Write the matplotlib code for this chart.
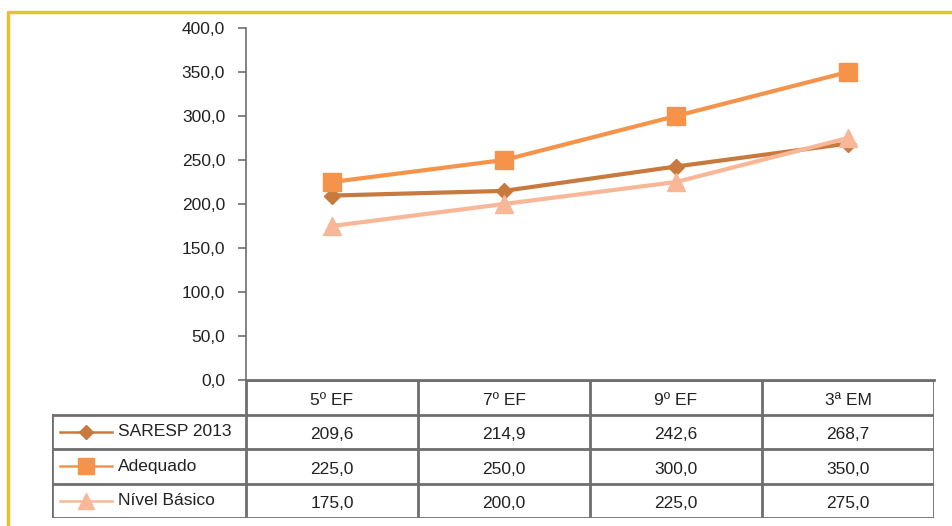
import numpy as np
import matplotlib.pyplot as plt
from matplotlib.lines import Line2D

plt.rcParams['font.family'] = ['Liberation Sans', 'DejaVu Sans']

# data
categorias = ['5º EF', '7º EF', '9º EF', '3ª EM']
series = ['SARESP 2013', 'Adequado', 'Nível Básico']
saresp = [209.6, 214.9, 242.6, 268.7]
adequado = [225.0, 250.0, 300.0, 350.0]
basico = [175.0, 200.0, 225.0, 275.0]
valores = [saresp, adequado, basico]

cores = ['#C8793E', '#F5934B', '#F8B797']
marcadores = ['D', 's', '^']
tam = [8, 13, 13]
cinza = '#6E6E6E'
fs = 12.5

W, H = 952, 526
fig = plt.figure(figsize=(W / 100, H / 100), dpi=100)

# moldura amarela
fig.add_artist(Line2D([8 / W, 8 / W, 1], [0, 1 - 12 / H, 1 - 12 / H],
                      color='#E6C22C', lw=2.5, transform=fig.transFigure))

# area do grafico
x0, x1, ytop, ybot = 246, 934, 28, 380
ax = fig.add_axes([x0 / W, 1 - ybot / H, (x1 - x0) / W, (ybot - ytop) / H])
xs = np.arange(len(categorias)) + 0.5
for v, c, m, s in zip(valores, cores, marcadores, tam):
    ax.plot(xs, v, color=c, lw=3, marker=m, ms=s, clip_on=False)
ax.set_xlim(0, len(categorias))
ax.set_ylim(0, 400)
ax.set_yticks(np.arange(0, 401, 50))
ax.set_yticklabels([f'{t:.1f}'.replace('.', ',') for t in np.arange(0, 401, 50)])
ax.set_xticks([])
for s in ['top', 'right']:
    ax.spines[s].set_visible(False)
ax.spines['left'].set_color(cinza)
ax.spines['bottom'].set_color(cinza)
ax.spines['left'].set_linewidth(1.2)
ax.spines['bottom'].set_linewidth(2)
ax.tick_params(axis='y', colors=cinza, length=6, width=1.2, labelsize=fs,
               labelcolor='#222222', pad=9)

# tabela de dados
tx0, tybot = 52, 518
leg_w = (x0 - tx0) / ((x1 - x0) / len(categorias))
axt = fig.add_axes([tx0 / W, 1 - tybot / H, (x1 - tx0) / W, (tybot - ybot) / H])
axt.set_xlim(-leg_w, len(categorias))
axt.set_ylim(4, 0)
axt.axis('off')
n = len(categorias)
# linhas horizontais
axt.plot([0, n], [0, 0], color=cinza, lw=2)
for r in range(1, 5):
    axt.plot([-leg_w, n], [r, r], color=cinza, lw=2)
# linhas verticais
axt.plot([-leg_w, -leg_w], [1, 4], color=cinza, lw=2)
for i in range(n + 1):
    axt.plot([i, i], [0, 4], color=cinza, lw=2)

for i, cat in enumerate(categorias):
    axt.text(i + 0.5, 0.6, cat, ha='center', va='center', fontsize=fs, color='#222222')
for r, (nome, v, c, m, s) in enumerate(zip(series, valores, cores, marcadores, tam)):
    y = r + 1.5
    for i, val in enumerate(v):
        axt.text(i + 0.5, y + 0.08, f'{val:.1f}'.replace('.', ','), ha='center',
                 va='center', fontsize=fs, color='#222222')
    lx = -leg_w + np.array([8, 60]) / 172
    axt.plot(lx, [y, y], color=c, lw=1.8)
    axt.plot([lx.mean()], [y], color=c, marker=m, ms=s * 0.85, lw=0)
    axt.text(-leg_w + 66 / 172, y, nome, ha='left', va='center', fontsize=fs,
             color='#222222')

fig.savefig('out.png', dpi=100)
